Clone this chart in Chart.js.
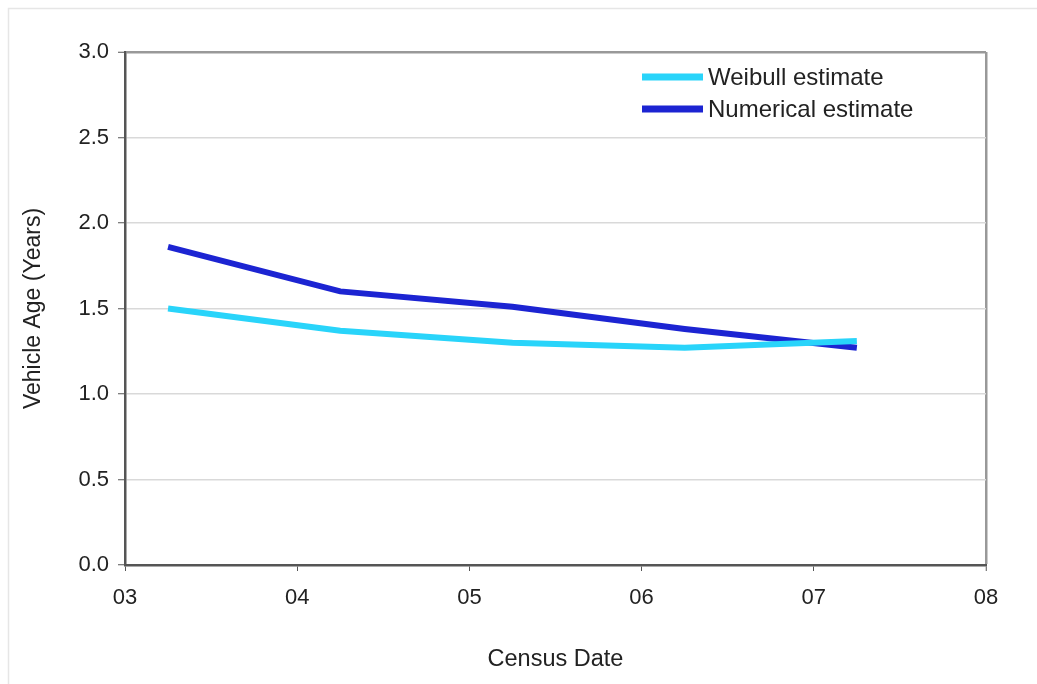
<!DOCTYPE html>
<html>
<head>
<meta charset="utf-8">
<script src="https://cdn.jsdelivr.net/npm/chart.js@4.4.1/dist/chart.umd.min.js"></script>
<style>
  html, body { margin: 0; padding: 0; background: #ffffff; }
  #wrap { position: relative; width: 1037px; height: 684px; }
  canvas { display: block; }
</style>
</head>
<body>
<div id="wrap"><canvas id="c" width="1037" height="684"></canvas></div>
<script>
// ---- data ----
const censusPositions = [3.25, 4.25, 5.25, 6.25, 7.25];
const weibullEstimate = [1.50, 1.37, 1.30, 1.27, 1.31];
const numericalEstimate = [1.86, 1.60, 1.51, 1.38, 1.27];
const xTickLabels = ['03', '04', '05', '06', '07', '08'];
const xTickValues = [3, 4, 5, 6, 7, 8];
const seriesNames = ['Weibull estimate', 'Numerical estimate'];

const FONT = "'Liberation Sans', Arial, sans-serif";
const TEXT = '#222222';

const pts = (vals) => censusPositions.map((x, i) => ({ x: x, y: vals[i] }));

const frameAndLegend = {
  id: 'frameAndLegend',
  beforeDraw(chart) {
    const ctx = chart.ctx;
    ctx.save();
    ctx.fillStyle = '#ffffff';
    ctx.fillRect(0, 0, chart.width, chart.height);
    ctx.strokeStyle = '#e6e6e6';
    ctx.lineWidth = 1.5;
    ctx.beginPath();
    ctx.moveTo(8.5, chart.height);
    ctx.lineTo(8.5, 8.5);
    ctx.lineTo(chart.width, 8.5);
    ctx.stroke();
    ctx.restore();
  },
  afterDatasetsDraw(chart) {
    const ctx = chart.ctx;
    const a = chart.chartArea;
    ctx.save();
    ctx.font = '24px ' + FONT;
    ctx.textBaseline = 'middle';
    ctx.textAlign = 'left';
    chart.data.datasets.forEach((ds, i) => {
      const y = a.top + 25 + i * 32;
      const x0 = a.left + 517;
      ctx.strokeStyle = ds.borderColor;
      ctx.lineWidth = 7;
      ctx.beginPath();
      ctx.moveTo(x0, y);
      ctx.lineTo(x0 + 61, y);
      ctx.stroke();
      ctx.fillStyle = TEXT;
      ctx.fillText(ds.label, x0 + 66, y + 1);
    });
    ctx.restore();
  }
};

new Chart(document.getElementById('c'), {
  type: 'line',
  data: {
    datasets: [
      {
        label: seriesNames[0],
        data: pts(weibullEstimate),
        borderColor: '#29d4fa',
        backgroundColor: '#29d4fa',
        borderWidth: 6,
        pointRadius: 0,
        tension: 0
      },
      {
        label: seriesNames[1],
        data: pts(numericalEstimate),
        borderColor: '#1c24d2',
        backgroundColor: '#1c24d2',
        borderWidth: 6,
        pointRadius: 0,
        tension: 0
      }
    ]
  },
  options: {
    responsive: false,
    animation: false,
    devicePixelRatio: 1,
    layout: { padding: { top: 52, right: 51, left: 0, bottom: 0 } },
    plugins: {
      legend: { display: false },
      tooltip: { enabled: false }
    },
    scales: {
      x: {
        type: 'linear',
        min: 3,
        max: 8,
        afterBuildTicks(scale) {
          scale.ticks = xTickValues.map(v => ({ value: v }));
        },
        afterFit(scale) { scale.height = 119; },
        ticks: {
          autoSkip: false,
          maxRotation: 0,
          padding: 14,
          color: TEXT,
          font: { family: FONT, size: 22 },
          callback: (v) => {
            const i = xTickValues.indexOf(v);
            return i >= 0 ? xTickLabels[i] : '';
          }
        },
        grid: {
          drawOnChartArea: true,
          color: (c) => (c.tick && c.tick.value === 8) ? '#999999' : 'rgba(0,0,0,0)',
          lineWidth: (c) => (c.tick && c.tick.value === 8) ? 2.5 : 1,
          tickColor: '#555555',
          tickLength: 6,
          tickWidth: 1
        },
        border: { display: true, color: '#555555', width: 2.5 },
        title: {
          display: true,
          text: 'Census Date',
          color: TEXT,
          font: { family: FONT, size: 23.5 },
          padding: { top: 10, bottom: 10 }
        }
      },
      y: {
        min: 0,
        max: 3,
        afterFit(scale) { scale.width = 125; },
        ticks: {
          stepSize: 0.5,
          padding: 9,
          color: TEXT,
          font: { family: FONT, size: 22 },
          callback: (v) => Number(v).toFixed(1)
        },
        grid: {
          color: (c) => {
            if (!c.tick) return '#d9d9d9';
            if (c.tick.value === 3) return '#999999';
            if (c.tick.value === 0) return 'rgba(0,0,0,0)';
            return '#d9d9d9';
          },
          lineWidth: (c) => (c.tick && c.tick.value === 3) ? 2.5 : 1.5,
          tickColor: '#555555',
          tickLength: 7,
          tickWidth: 1
        },
        border: { display: true, color: '#555555', width: 2.5 },
        title: {
          display: true,
          text: 'Vehicle Age (Years)',
          color: TEXT,
          font: { family: FONT, size: 23 },
          padding: { top: 20, bottom: 10 }
        }
      }
    }
  },
  plugins: [frameAndLegend]
});
</script>
</body>
</html>
